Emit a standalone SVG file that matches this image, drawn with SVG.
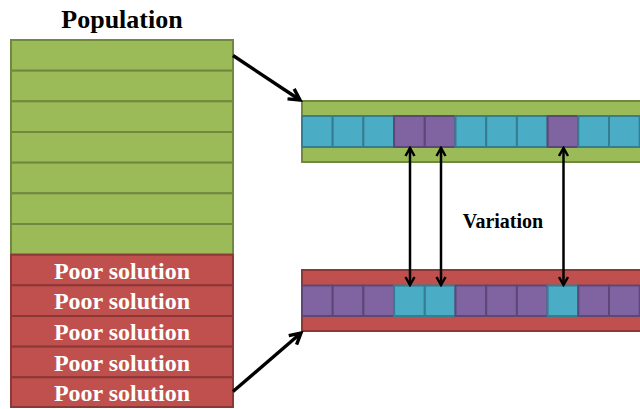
<svg xmlns="http://www.w3.org/2000/svg" width="640" height="409" viewBox="0 0 640 409">
<defs>
<style>
.g{fill:#9BBB59;stroke:#71893F;stroke-width:2}
.r{fill:#C0504D;stroke:#8C3836;stroke-width:2}
.b{fill:#4BACC6;stroke:#357D91;stroke-width:2}
.p{fill:#8064A2;stroke:#5C4776;stroke-width:2}
.t{font-family:"Liberation Serif","Times New Roman",serif;font-weight:bold;text-anchor:middle}
.w{fill:#FFFFFF;font-size:24px}
.k{fill:#000000}
.a{stroke:#000;fill:none}
</style>
<marker id="ah" viewBox="0 0 16 16" refX="13" refY="8" markerWidth="16" markerHeight="16" markerUnits="userSpaceOnUse" orient="auto-start-reverse">
<path d="M2,2 L13,8 L2,14" fill="none" stroke="#000" stroke-width="3.4"/>
</marker>
<marker id="ah2" viewBox="0 0 12 12" refX="10" refY="6" markerWidth="12" markerHeight="12" markerUnits="userSpaceOnUse" orient="auto-start-reverse">
<path d="M2,1.5 L10,6 L2,10.5" fill="none" stroke="#000" stroke-width="2.5"/>
</marker>
</defs>
<rect width="640" height="409" fill="#fff"/>
<text class="t k" x="122" y="28" font-size="26">Population</text>
<g id="population">
<rect class="g" x="11" y="40" width="222" height="30.67"/>
<rect class="g" x="11" y="70.67" width="222" height="30.67"/>
<rect class="g" x="11" y="101.33" width="222" height="30.67"/>
<rect class="g" x="11" y="132" width="222" height="30.67"/>
<rect class="g" x="11" y="162.67" width="222" height="30.67"/>
<rect class="g" x="11" y="193.33" width="222" height="30.67"/>
<rect class="g" x="11" y="224" width="222" height="30.67"/>
</g>
<g id="poor1"><rect class="r" x="11" y="254.67" width="222" height="30.67"/><text class="t w" x="122" y="278.5">Poor solution</text></g>
<g id="poor2"><rect class="r" x="11" y="285.33" width="222" height="30.67"/><text class="t w" x="122" y="309.2">Poor solution</text></g>
<g id="poor3"><rect class="r" x="11" y="316" width="222" height="30.67"/><text class="t w" x="122" y="339.9">Poor solution</text></g>
<g id="poor4"><rect class="r" x="11" y="346.67" width="222" height="30.67"/><text class="t w" x="122" y="370.6">Poor solution</text></g>
<g id="poor5"><rect class="r" x="11" y="377.33" width="222" height="29.67"/><text class="t w" x="122" y="401.2">Poor solution</text></g>
<g id="chromosome-top">
<rect class="g" x="302" y="101" width="345" height="61"/>
<rect class="b" x="302" y="116" width="30.7" height="31"/>
<rect class="b" x="332.7" y="116" width="30.7" height="31"/>
<rect class="b" x="363.4" y="116" width="30.7" height="31"/>
<rect class="p" x="394.1" y="116" width="30.7" height="31"/>
<rect class="p" x="424.8" y="116" width="30.7" height="31"/>
<rect class="b" x="455.5" y="116" width="30.7" height="31"/>
<rect class="b" x="486.2" y="116" width="30.7" height="31"/>
<rect class="b" x="516.9" y="116" width="30.7" height="31"/>
<rect class="p" x="547.6" y="116" width="30.7" height="31"/>
<rect class="b" x="578.3" y="116" width="30.7" height="31"/>
<rect class="b" x="609" y="116" width="30.7" height="31"/>
</g>
<g id="chromosome-bottom">
<rect class="r" x="302" y="270" width="345" height="61"/>
<rect class="p" x="302" y="285.5" width="30.7" height="30.5"/>
<rect class="p" x="332.7" y="285.5" width="30.7" height="30.5"/>
<rect class="p" x="363.4" y="285.5" width="30.7" height="30.5"/>
<rect class="b" x="394.1" y="285.5" width="30.7" height="30.5"/>
<rect class="b" x="424.8" y="285.5" width="30.7" height="30.5"/>
<rect class="p" x="455.5" y="285.5" width="30.7" height="30.5"/>
<rect class="p" x="486.2" y="285.5" width="30.7" height="30.5"/>
<rect class="p" x="516.9" y="285.5" width="30.7" height="30.5"/>
<rect class="b" x="547.6" y="285.5" width="30.7" height="30.5"/>
<rect class="p" x="578.3" y="285.5" width="30.7" height="30.5"/>
<rect class="p" x="609" y="285.5" width="30.7" height="30.5"/>
</g>
<text class="t k" x="503" y="228" font-size="20">Variation</text>
<g id="connectors">
<line class="a" x1="233" y1="55.5" x2="300" y2="100" stroke-width="3.4" marker-end="url(#ah)"/>
<line class="a" x1="233" y1="391.5" x2="301" y2="333" stroke-width="3.4" marker-end="url(#ah)"/>
<line class="a" x1="410" y1="148" x2="410" y2="285" stroke-width="2.5" marker-start="url(#ah2)" marker-end="url(#ah2)"/>
<line class="a" x1="441" y1="148" x2="441" y2="285" stroke-width="2.5" marker-start="url(#ah2)" marker-end="url(#ah2)"/>
<line class="a" x1="563.5" y1="148" x2="563.5" y2="285" stroke-width="2.5" marker-start="url(#ah2)" marker-end="url(#ah2)"/>
</g>
</svg>
